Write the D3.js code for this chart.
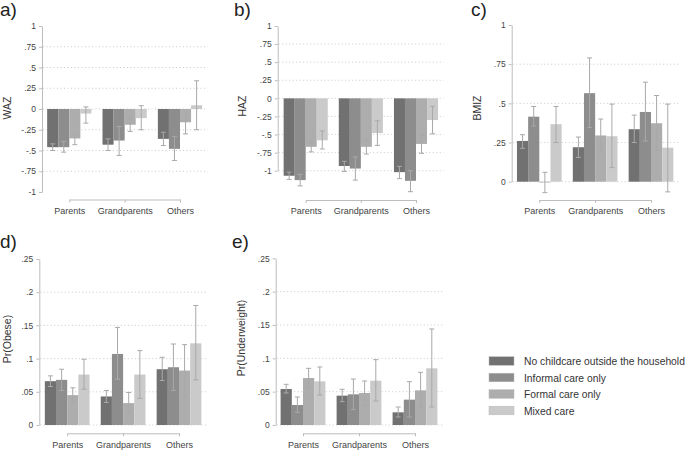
<!DOCTYPE html>
<html>
<head>
<meta charset="utf-8">
<script src="https://cdn.jsdelivr.net/npm/d3@7"></script>
<style>
  html,body{margin:0;padding:0;background:#fff;}
  svg{display:block;font-family:"Liberation Sans",Arial,Helvetica,sans-serif;}
</style>
</head>
<body>
<svg id="chart" width="685" height="450"></svg>
<script>
// ---------- DATA ----------
const categories = ["Parents", "Grandparents", "Others"];
const series = ["No childcare outside the household", "Informal care only", "Formal care only", "Mixed care"];

// rows = categories, columns = series
const wazMean = [[-0.46, -0.46, -0.355, -0.055], [-0.43, -0.38, -0.19, -0.11], [-0.36, -0.48, -0.16, 0.045]];
const wazLo   = [[-0.50, -0.52, -0.43, -0.17], [-0.50, -0.56, -0.27, -0.25], [-0.44, -0.62, -0.30, -0.25]];
const wazHi   = [[-0.42, -0.39, -0.31, 0.025], [-0.36, -0.21, -0.11, 0.04], [-0.28, -0.33, -0.04, 0.34]];

const hazMean = [[-1.07, -1.13, -0.67, -0.58], [-0.935, -0.97, -0.67, -0.48], [-1.02, -1.14, -0.63, -0.30]];
const hazLo   = [[-1.12, -1.21, -0.74, -0.70], [-1.01, -1.13, -0.77, -0.65], [-1.11, -1.29, -0.76, -0.49]];
const hazHi   = [[-1.02, -1.05, -0.61, -0.45], [-0.87, -0.81, -0.57, -0.31], [-0.94, -1.00, -0.51, -0.11]];

const bmizMean = [[0.26, 0.415, -0.005, 0.367], [0.22, 0.565, 0.295, 0.29], [0.335, 0.445, 0.373, 0.217]];
const bmizLo   = [[0.213, 0.355, -0.07, 0.25], [0.155, 0.345, 0.19, 0.09], [0.25, 0.26, 0.20, -0.065]];
const bmizHi   = [[0.30, 0.48, 0.06, 0.48], [0.285, 0.79, 0.40, 0.495], [0.425, 0.635, 0.55, 0.495]];

const obeseMean = [[0.066, 0.068, 0.045, 0.076], [0.043, 0.107, 0.033, 0.076], [0.084, 0.087, 0.082, 0.123]];
const obeseLo   = [[0.058, 0.052, 0.034, 0.054], [0.034, 0.069, 0.018, 0.040], [0.067, 0.052, 0.043, 0.068]];
const obeseHi   = [[0.074, 0.084, 0.056, 0.099], [0.052, 0.147, 0.049, 0.112], [0.102, 0.122, 0.121, 0.180]];

const underMean = [[0.054, 0.030, 0.0705, 0.0655], [0.044, 0.046, 0.048, 0.0665], [0.019, 0.038, 0.052, 0.085]];
const underLo   = [[0.048, 0.019, 0.056, 0.045], [0.035, 0.023, 0.029, 0.036], [0.012, 0.012, 0.026, 0.027]];
const underHi   = [[0.061, 0.042, 0.085, 0.087], [0.0535, 0.069, 0.066, 0.098], [0.027, 0.065, 0.079, 0.144]];

const zTicks = [-1, -0.75, -0.5, -0.25, 0, 0.25, 0.5, 0.75, 1];
const bmizTicks = [0, 0.25, 0.5, 0.75, 1];
const probTicks = [0, 0.05, 0.1, 0.15, 0.2, 0.25];

// ---------- STYLE ----------
const colors = ["#717171", "#8d8d8d", "#adadad", "#cacaca"];
const ciColor = "#a9a9a9";
const axisColor = "#bdbdbd";
const gridColor = "#c9c9c9";
const textColor = "#444";

const svg = d3.select("#chart");
const fmt = d => String(+d.toFixed(4)).replace(/^(-?)0\./, "$1.");

function panel(cfg) {
  const g = svg.append("g");
  const step = (cfg.c3 - cfg.c1) / 2;
  const x0 = d3.scaleBand().domain(categories)
    .range([cfg.c1 - step / 2, cfg.c3 + step / 2])
    .paddingInner(0.2).paddingOuter(0.1);
  const x1 = d3.scaleBand().domain(series).range([0, x0.bandwidth()]);
  const xp = d3.scalePoint().domain(categories).range([cfg.c1, cfg.c3]);
  const y = d3.scaleLinear().domain(cfg.domain).range([cfg.yBottom, cfg.yTop]);
  const gridEnd = cfg.c3 + step / 2;

  // grid
  g.selectAll("line.grid").data(cfg.ticks.filter(t => !cfg.noGrid.includes(t)))
    .join("line").attr("class", "grid")
    .attr("x1", cfg.axisX + 1).attr("x2", gridEnd)
    .attr("y1", d => y(d)).attr("y2", d => y(d))
    .attr("stroke", gridColor).attr("stroke-width", 1)
    .attr("stroke-dasharray", "1,2.5");

  // bars
  const rows = [];
  categories.forEach((c, i) => series.forEach((s, j) => rows.push({
    c, s, j, m: cfg.mean[i][j], lo: cfg.lo[i][j], hi: cfg.hi[i][j]
  })));
  g.selectAll("rect.bar").data(rows).join("rect").attr("class", "bar")
    .attr("x", d => x0(d.c) + x1(d.s))
    .attr("width", x1.bandwidth())
    .attr("y", d => Math.min(y(d.m), y(0)))
    .attr("height", d => Math.abs(y(d.m) - y(0)))
    .attr("fill", d => colors[d.j]);

  // CIs
  const cap = 2.5;
  const ci = g.selectAll("g.ci").data(rows).join("g").attr("class", "ci")
    .attr("stroke", ciColor).attr("stroke-width", 1).attr("fill", "none");
  const cx = d => x0(d.c) + x1(d.s) + x1.bandwidth() / 2;
  ci.append("line").attr("x1", cx).attr("x2", cx).attr("y1", d => y(d.lo)).attr("y2", d => y(d.hi));
  ci.append("line").attr("x1", d => cx(d) - cap).attr("x2", d => cx(d) + cap).attr("y1", d => y(d.lo)).attr("y2", d => y(d.lo));
  ci.append("line").attr("x1", d => cx(d) - cap).attr("x2", d => cx(d) + cap).attr("y1", d => y(d.hi)).attr("y2", d => y(d.hi));

  // y axis
  const ya = g.append("g").attr("transform", `translate(${cfg.axisX},0)`)
    .call(d3.axisLeft(y).tickValues(cfg.ticks).tickFormat(fmt).tickSize(3).tickSizeOuter(0).tickPadding(3));
  ya.select(".domain").attr("stroke", axisColor);
  ya.selectAll(".tick line").attr("stroke", axisColor);
  ya.selectAll(".tick text").attr("fill", textColor).style("font-size", "8.5px");

  // x axis (bracket)
  const xa = g.append("g").attr("transform", `translate(0,${cfg.xAxisY})`)
    .call(d3.axisBottom(xp).tickSize(3).tickSizeOuter(0).tickPadding(5));
  xa.select(".domain").attr("stroke", axisColor);
  xa.selectAll(".tick line").attr("stroke", axisColor);
  xa.selectAll(".tick text").attr("fill", textColor).style("font-size", "9px");

  // y title
  g.append("text")
    .attr("transform", `translate(${cfg.titleX},${cfg.titleY}) rotate(-90)`)
    .attr("text-anchor", "middle").attr("dominant-baseline", "central")
    .attr("fill", "#333").style("font-size", "10.5px").text(cfg.title);

  // panel label
  g.append("text").attr("x", cfg.labelX).attr("y", cfg.labelY)
    .attr("fill", "#222").style("font-size", "19px").text(cfg.label);
}

panel({ mean: wazMean, lo: wazLo, hi: wazHi, ticks: zTicks, noGrid: [1, -1], domain: [-1, 1],
  yTop: 26, yBottom: 192, axisX: 42, c1: 69.3, c3: 180, xAxisY: 199.5,
  title: "WAZ", titleX: 7, titleY: 108, label: "a)", labelX: 0, labelY: 16 });
panel({ mean: hazMean, lo: hazLo, hi: hazHi, ticks: zTicks, noGrid: [1], domain: [-1, 1],
  yTop: 26, yBottom: 170.7, axisX: 277.7, c1: 305.7, c3: 416, xAxisY: 200,
  title: "HAZ", titleX: 242, titleY: 106, label: "b)", labelX: 234, labelY: 16 });
panel({ mean: bmizMean, lo: bmizLo, hi: bmizHi, ticks: bmizTicks, noGrid: [1], domain: [0, 1],
  yTop: 25, yBottom: 181.7, axisX: 511.7, c1: 539.3, c3: 651, xAxisY: 200,
  title: "BMIZ", titleX: 477, titleY: 108, label: "c)", labelX: 471, labelY: 16 });
panel({ mean: obeseMean, lo: obeseLo, hi: obeseHi, ticks: probTicks, noGrid: [0.25], domain: [0, 0.25],
  yTop: 259, yBottom: 425, axisX: 39.3, c1: 67.2, c3: 179, xAxisY: 433.3,
  title: "Pr(Obese)", titleX: 7, titleY: 339, label: "d)", labelX: 0, labelY: 248 });
panel({ mean: underMean, lo: underLo, hi: underHi, ticks: probTicks, noGrid: [0.25], domain: [0, 0.25],
  yTop: 258.3, yBottom: 425, axisX: 275.7, c1: 303, c3: 415, xAxisY: 433.3,
  title: "Pr(Underweight)", titleX: 241, titleY: 338, label: "e)", labelX: 232, labelY: 248 });

// legend
const leg = svg.append("g");
const ly = d3.scalePoint().domain(series).range([361, 410.5]);
leg.selectAll("rect").data(series).join("rect")
  .attr("x", 489).attr("y", d => ly(d) - 4.3).attr("width", 25).attr("height", 8.6)
  .attr("fill", (d, i) => colors[i]).attr("stroke", "#bbb").attr("stroke-width", 0.5);
leg.selectAll("text").data(series).join("text")
  .attr("x", 524).attr("y", d => ly(d) + 0.5).attr("dominant-baseline", "central")
  .attr("fill", "#333").style("font-size", "10.3px").text(d => d);
</script>
</body>
</html>
